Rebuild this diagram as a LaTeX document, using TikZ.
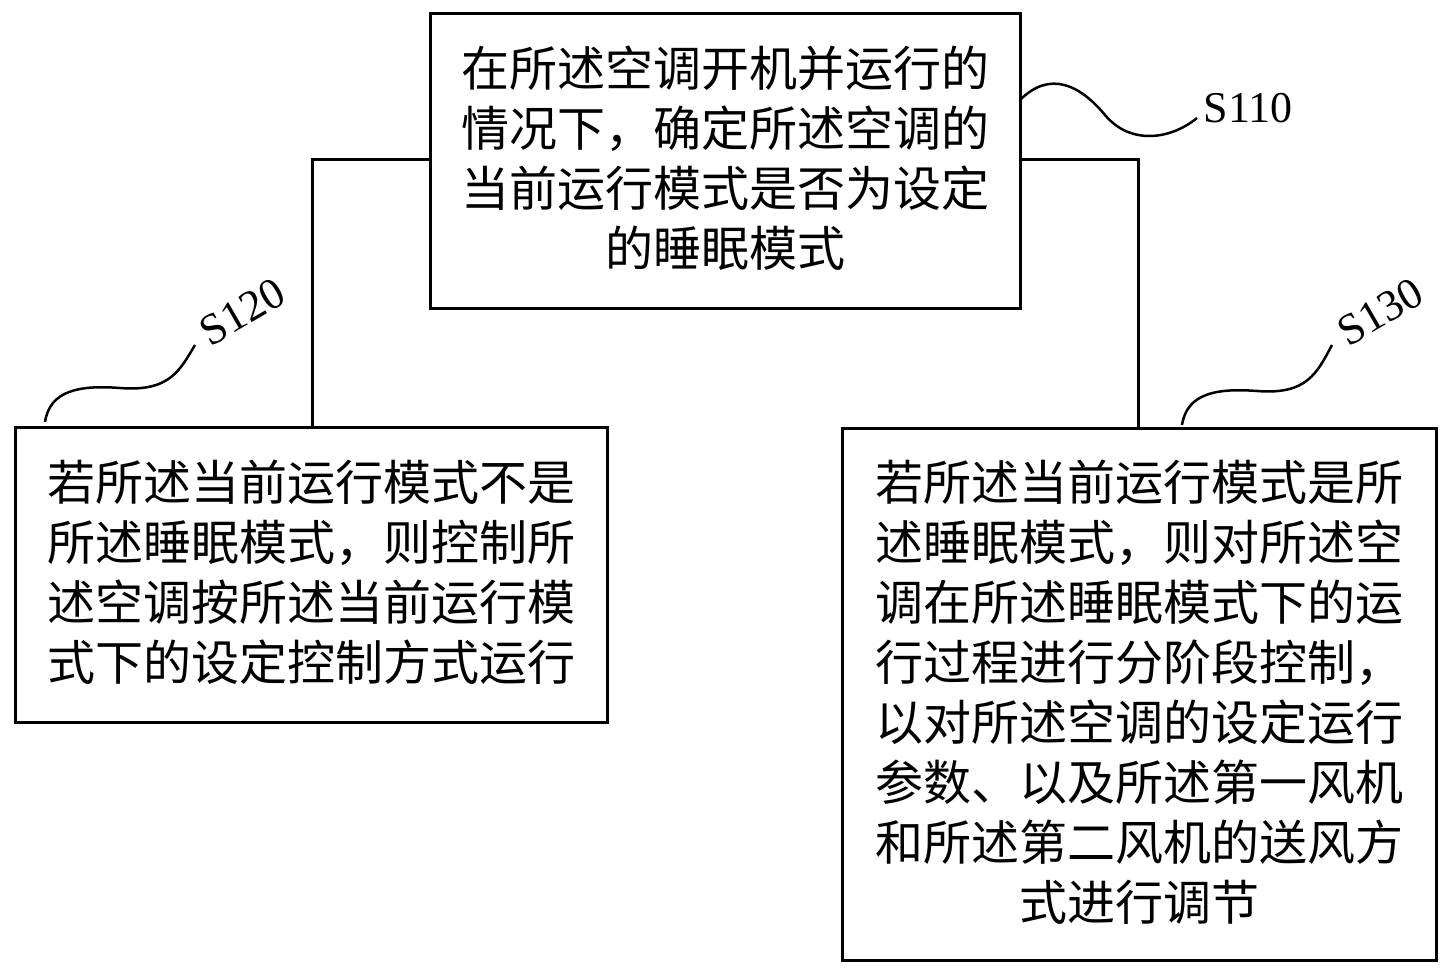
\documentclass[tikz,border=0pt]{standalone}
\usepackage{fontspec}
\newfontfamily\cjk{Noto Sans CJK SC}
\setmainfont{Liberation Serif}
\begin{document}
\begin{tikzpicture}[x=1pt,y=-1pt,
 box/.style={draw,line width=3pt,inner sep=0pt},
 txt/.style={font=\cjk\fontsize{48}{60}\selectfont},
 lab/.style={font=\fontsize{44}{50}\selectfont},
 ln/.style={line width=3pt}]
\useasboundingbox (0,0) rectangle (1450,976);
\draw[box] (430,14) rectangle (1020,308); \coordinate (tl) at (430,160); \coordinate (tr) at (1020,160);
\draw[box] (15,427) rectangle (607,722); \coordinate (lt) at (312,427);
\draw[box] (842,428) rectangle (1436,960); \coordinate (rt) at (1138,428);
\node[txt,align=center] (t) at (725,158) {在所述空调开机并运行的\\情况下，确定所述空调的\\当前运行模式是否为设定\\的睡眠模式};
\node[txt,align=left] (l) at (311,572) {若所述当前运行模式不是\\所述睡眠模式，则控制所\\述空调按所述当前运行模\\式下的设定控制方式运行};
\node[txt,align=center] (r) at (1139,692) {若所述当前运行模式是所\\述睡眠模式，则对所述空\\调在所述睡眠模式下的运\\行过程进行分阶段控制，\\以对所述空调的设定运行\\参数、以及所述第一风机\\和所述第二风机的送风方\\式进行调节};
\draw[ln] (tl) -| (lt);
\draw[ln] (tr) -| (rt);
\node[lab] (s1) at (1248,108) {S110};
\node[lab,rotate=30] (s2) at (242,312) {S120};
\node[lab,rotate=30] (s3) at (1380,312) {S130};
\draw[line width=2.5pt] (1020,100) .. controls (1050,70) and (1080,85) .. (1105,115) .. controls (1130,145) and (1170,140) .. (1197,118);
\draw[line width=2.5pt] (45,422) .. controls (50,390) and (80,385) .. (120,388) .. controls (170,392) and (180,370) .. (195,345);
\draw[line width=2.5pt] (1182,425) .. controls (1187,393) and (1217,388) .. (1257,391) .. controls (1307,395) and (1317,373) .. (1332,345);
\end{tikzpicture}
\end{document}
